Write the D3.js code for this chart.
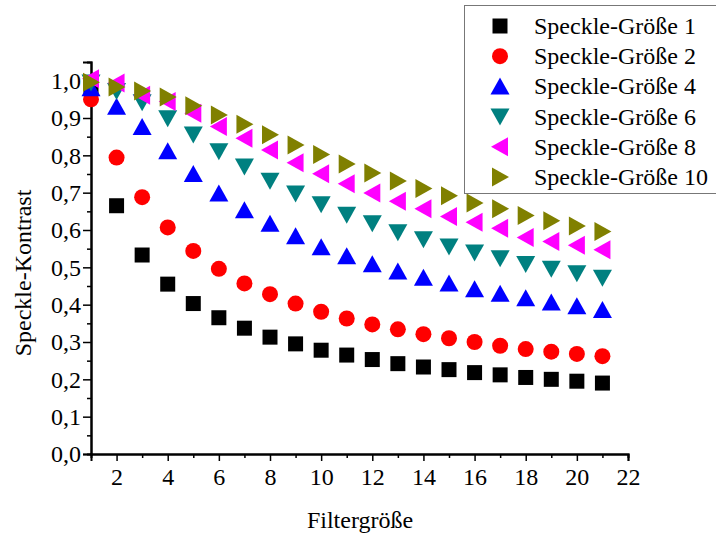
<!DOCTYPE html>
<html>
<head>
<meta charset="utf-8">
<script src="https://cdn.jsdelivr.net/npm/d3@7"></script>
<style>
  html, body { margin: 0; padding: 0; background: #fff; }
  svg { display: block; }
  text { font-family: "Liberation Serif", "Times New Roman", serif; fill: #000; }
</style>
</head>
<body>
<svg id="chart" width="716" height="536"></svg>
<script>
const filterSizes = d3.range(1, 22);
const seriesNames = ["Speckle-Größe 1", "Speckle-Größe 2", "Speckle-Größe 4", "Speckle-Größe 6", "Speckle-Größe 8", "Speckle-Größe 10"];
const speckle1 = [0.985, 0.665, 0.533, 0.455, 0.403, 0.365, 0.337, 0.313, 0.295, 0.278, 0.265, 0.253, 0.242, 0.233, 0.226, 0.218, 0.212, 0.205, 0.200, 0.195, 0.190];
const speckle2 = [0.950, 0.794, 0.688, 0.607, 0.544, 0.496, 0.457, 0.428, 0.403, 0.381, 0.363, 0.347, 0.334, 0.321, 0.310, 0.300, 0.290, 0.281, 0.274, 0.268, 0.262];
const speckle4 = [0.980, 0.930, 0.876, 0.811, 0.750, 0.698, 0.653, 0.617, 0.583, 0.554, 0.530, 0.508, 0.489, 0.472, 0.457, 0.441, 0.429, 0.417, 0.406, 0.396, 0.386];
const speckle6 = [0.995, 0.972, 0.942, 0.899, 0.856, 0.811, 0.770, 0.732, 0.698, 0.669, 0.641, 0.618, 0.594, 0.575, 0.556, 0.540, 0.524, 0.509, 0.496, 0.484, 0.472];
const speckle8 = [1.005, 0.994, 0.961, 0.944, 0.913, 0.877, 0.846, 0.814, 0.780, 0.751, 0.724, 0.699, 0.677, 0.657, 0.636, 0.621, 0.605, 0.580, 0.569, 0.559, 0.547];
const speckle10 = [0.996, 0.983, 0.972, 0.956, 0.933, 0.908, 0.883, 0.855, 0.828, 0.802, 0.777, 0.753, 0.731, 0.711, 0.692, 0.672, 0.657, 0.639, 0.625, 0.611, 0.596];
const xTicks = [2, 4, 6, 8, 10, 12, 14, 16, 18, 20, 22];
const yTicks = [0.0, 0.1, 0.2, 0.3, 0.4, 0.5, 0.6, 0.7, 0.8, 0.9, 1.0];
const colors = ["#000000", "#ff0000", "#0000ff", "#008080", "#ff00ff", "#808000"];
const shapes = ["square", "circle", "up", "down", "left", "right"];
const allSeries = [speckle1, speckle2, speckle4, speckle6, speckle8, speckle10];

const svg = d3.select("#chart");
const x = d3.scaleLinear().domain([1, 22]).range([91, 628]);
const y = d3.scaleLinear().domain([0, 1.05]).range([454, 62]);

function markerPath(shape) {
  const p = d3.path();
  if (shape === "square") { p.rect(-7.5, -7.5, 15, 15); }
  else if (shape === "circle") { p.arc(0, 0, 8, 0, 2 * Math.PI); }
  else if (shape === "up") { p.moveTo(0, -9); p.lineTo(9.5, 8); p.lineTo(-9.5, 8); p.closePath(); }
  else if (shape === "down") { p.moveTo(0, 9); p.lineTo(9.5, -8); p.lineTo(-9.5, -8); p.closePath(); }
  else if (shape === "left") { p.moveTo(-9, 0); p.lineTo(8, -9.5); p.lineTo(8, 9.5); p.closePath(); }
  else if (shape === "right") { p.moveTo(9, 0); p.lineTo(-8, -9.5); p.lineTo(-8, 9.5); p.closePath(); }
  return p.toString();
}

// axes
const xAxis = d3.axisBottom(x).tickValues(xTicks).tickSize(7).tickPadding(7).tickFormat(d3.format("d"));
const xMinor = d3.axisBottom(x).tickValues(d3.range(3, 22, 2)).tickSize(4).tickFormat("");
const yAxis = d3.axisLeft(y).tickValues(yTicks).tickSize(8).tickPadding(2).tickFormat(d => d3.format(".1f")(d).replace(".", ","));
const yMinor = d3.axisLeft(y).tickValues(d3.range(0.05, 1.05, 0.1)).tickSize(4).tickFormat("");

function styleAxis(g) {
  g.selectAll("path.domain").attr("stroke", "#000").attr("stroke-width", 2);
  g.selectAll(".tick line").attr("stroke", "#000").attr("stroke-width", 1.5);
  g.selectAll(".tick text").style("font-family", "'Liberation Serif', serif").style("font-size", "24px").attr("fill", "#000");
}

svg.append("g").attr("transform", "translate(0,454)").call(xMinor).call(styleAxis);
svg.append("g").attr("transform", "translate(0,454)").call(xAxis).call(styleAxis);
svg.append("g").attr("transform", "translate(91,0)").call(yMinor).call(styleAxis);
svg.append("g").attr("transform", "translate(91,0)").call(yAxis).call(styleAxis);

// axis titles
svg.append("text").attr("x", 360).attr("y", 528).attr("text-anchor", "middle").style("font-size", "24px").text("Filtergröße");
svg.append("text").attr("transform", "translate(31,273) rotate(-90)").attr("text-anchor", "middle").style("font-size", "24px").text("Speckle-Kontrast");

// data markers
allSeries.forEach((vals, i) => {
  svg.append("g").selectAll("path").data(vals).enter().append("path")
    .attr("d", markerPath(shapes[i]))
    .attr("transform", (d, j) => `translate(${x(filterSizes[j])},${y(d)})`)
    .attr("fill", colors[i]);
});

// legend
const lg = svg.append("g");
lg.append("rect").attr("x", 464.5).attr("y", 5.5).attr("width", 270).attr("height", 188)
  .attr("fill", "#fff").attr("stroke", "#777").attr("stroke-width", 1);
seriesNames.forEach((name, i) => {
  const cy = 26 + i * 30.2;
  lg.append("path").attr("d", markerPath(shapes[i])).attr("transform", `translate(500,${cy})`).attr("fill", colors[i]);
  lg.append("text").attr("x", 534).attr("y", cy + 8).style("font-size", "24px").text(name);
});
</script>
</body>
</html>
